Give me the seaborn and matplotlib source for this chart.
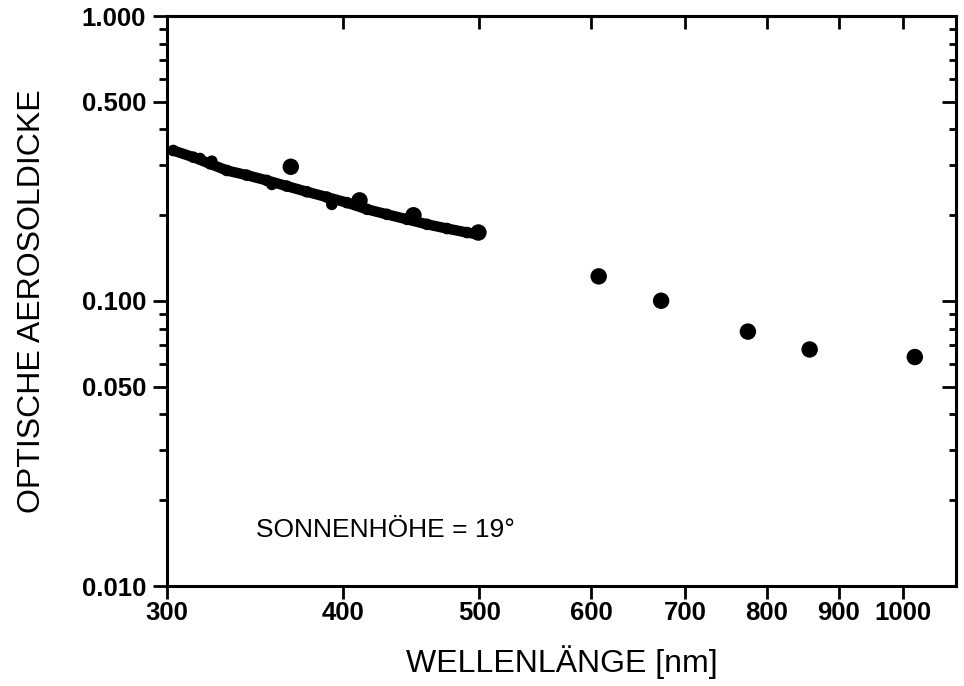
import matplotlib
matplotlib.use("Agg")
import matplotlib.pyplot as plt
import seaborn as sns
from matplotlib.ticker import LogLocator, NullLocator, NullFormatter

line_wl = [303.1, 313.2, 321.9, 330.8, 341.8, 353.2, 364.9, 377.0, 389.6,
           402.6, 416.0, 429.8, 444.1, 458.9, 474.2, 489.9, 498.0]
line_tau = [0.3373, 0.3195, 0.3030, 0.2871, 0.2764, 0.2649, 0.2530, 0.2418,
            0.2315, 0.2214, 0.2098, 0.2014, 0.1935, 0.1858, 0.1796, 0.1739, 0.1715]

# small scatter around the curve
bump_wl = [316.6, 322.8, 356.1, 392.8]
bump_tau = [0.3162, 0.3094, 0.2565, 0.2183]

# sun photometer channels
sun_wl = [367.3, 411.0, 448.9, 499.2, 607.7, 673.0, 775.6, 858.0, 1019.0]
sun_tau = [0.2958, 0.2255, 0.1999, 0.1739, 0.1220, 0.1002, 0.0781, 0.0676, 0.0636]

x_ticks = [300, 400, 500, 600, 700, 800, 900, 1000]
y_ticks = [0.01, 0.05, 0.1, 0.5, 1.0]
y_ticklabels = ["0.010", "0.050", "0.100", "0.500", "1.000"]

sns.set_theme(style="ticks")
plt.rcParams["font.family"] = ["Liberation Sans", "DejaVu Sans"]
plt.rcParams["text.color"] = "black"
plt.rcParams["axes.labelcolor"] = "black"
plt.rcParams["xtick.color"] = "black"
plt.rcParams["ytick.color"] = "black"

fig = plt.figure(figsize=(9.64, 6.86), dpi=100)
ax = fig.add_axes([167 / 964, 100 / 686, 789 / 964, 570 / 686])

sns.lineplot(x=line_wl, y=line_tau, color="black", linewidth=7.5, sort=False,
             ax=ax, solid_capstyle="round", solid_joinstyle="round")
sns.scatterplot(x=line_wl + bump_wl, y=line_tau + bump_tau, color="black",
                s=70, edgecolor="none", ax=ax)
sns.scatterplot(x=sun_wl, y=sun_tau, color="black", s=140, edgecolor="none", ax=ax)

ax.set_xscale("log")
ax.set_yscale("log")
ax.set_xlim(300, 1090)
ax.set_ylim(0.01, 1.0)

ax.set_xticks(x_ticks)
ax.set_xticklabels([str(t) for t in x_ticks])
ax.xaxis.set_minor_locator(NullLocator())
ax.set_yticks(y_ticks)
ax.set_yticklabels(y_ticklabels)
ax.yaxis.set_minor_locator(LogLocator(base=10, subs=range(2, 10)))
ax.yaxis.set_minor_formatter(NullFormatter())

for sp in ax.spines.values():
    sp.set_visible(True)
    sp.set_linewidth(2.2)
    sp.set_color("black")

ax.tick_params(axis="x", which="major", direction="out", length=9, width=2,
               top=False, pad=2, labelsize=18.5, colors="black")
ax.tick_params(axis="y", which="major", direction="out", length=10, width=2,
               right=False, pad=5, labelsize=18.5, colors="black")
ax.tick_params(axis="y", which="minor", direction="out", length=6, width=2, right=False)
for lab in ax.get_xticklabels() + ax.get_yticklabels():
    lab.set_fontweight("bold")

top = ax.secondary_xaxis("top")
top.set_xticks(x_ticks)
top.xaxis.set_minor_locator(NullLocator())
top.tick_params(which="major", direction="in", length=9, width=2, labeltop=False)
top.spines["top"].set_linewidth(2.2)

right = ax.secondary_yaxis("right")
right.set_yticks(y_ticks)
right.yaxis.set_minor_locator(LogLocator(base=10, subs=range(2, 10)))
right.yaxis.set_minor_formatter(NullFormatter())
right.tick_params(which="major", direction="in", length=10, width=2, labelright=False)
right.tick_params(which="minor", direction="in", length=5, width=2, labelright=False)
right.spines["right"].set_linewidth(2.2)

ax.set_xlabel("WELLENLÄNGE [nm]", fontsize=23, color="black")
ax.set_ylabel("OPTISCHE AEROSOLDICKE", fontsize=23, color="black")
ax.xaxis.set_label_coords(0.501, -0.133)
ax.xaxis.label.set_va("center")
ax.yaxis.set_label_coords(-0.171, 0.5)
ax.yaxis.label.set_va("center")

ax.text(347, 0.01483, "SONNENHÖHE = 19°", fontsize=19, ha="left",
        va="baseline", color="black")

fig.savefig("out.png", dpi=100, facecolor="white")
